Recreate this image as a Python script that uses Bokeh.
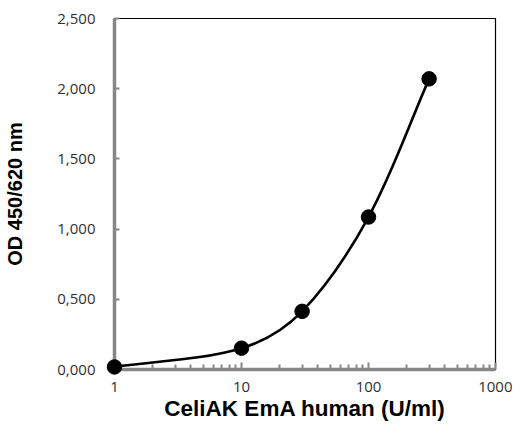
import numpy as np
from bokeh.plotting import figure
from bokeh.models import FixedTicker, Range1d
from bokeh.embed import file_html
from bokeh.resources import INLINE

conc = [1, 10, 30, 100, 300]
od = [0.018, 0.152, 0.414, 1.086, 2.070]
y_ticks = [0, 0.5, 1.0, 1.5, 2.0, 2.5]
y_labels = ["0,000", "0,500", "1,000", "1,500", "2,000", "2,500"]
x_ticks = [1, 10, 100, 1000]
x_labels = ["1", "10", "100", "1000"]

GRAY = "#878787"
TICK_TXT = "#303030"
W, H = 512, 426
BL, BR, BT, BB = 114, 17, 18, 57

p = figure(width=W, height=H, x_axis_type="log", output_backend="svg",
           toolbar_location=None, x_range=Range1d(1, 1000), y_range=Range1d(0, 2.5),
           min_border_left=BL, min_border_right=BR, min_border_top=BT, min_border_bottom=BB)
p.grid.visible = False
p.outline_line_color = "black"
p.outline_line_width = 1.2

# smooth curve through the points (tangent-based cubic Bezier, in screen-proportional space)
fw, fh = W - BL - BR, H - BT - BB
sx = fw / 3.0   # px per decade
sy = fh / 2.5   # px per unit
P = np.column_stack([np.log10(np.array(conc, float)) * sx, np.array(od, float) * sy])
n = len(P)
T = []
for i in range(n):
    a = P[max(i - 1, 0)]
    b = P[min(i + 1, n - 1)]
    d = b - a
    T.append(d / np.linalg.norm(d))
x0, y0, x1, y1, cx0, cy0, cx1, cy1 = [], [], [], [], [], [], [], []
for i in range(n - 1):
    L = np.linalg.norm(P[i + 1] - P[i]) / 3.0
    c0 = P[i] + T[i] * L
    c1 = P[i + 1] - T[i + 1] * L
    x0.append(10 ** (P[i][0] / sx)); y0.append(P[i][1] / sy)
    x1.append(10 ** (P[i + 1][0] / sx)); y1.append(P[i + 1][1] / sy)
    cx0.append(10 ** (c0[0] / sx)); cy0.append(c0[1] / sy)
    cx1.append(10 ** (c1[0] / sx)); cy1.append(c1[1] / sy)
p.bezier(x0=x0, y0=y0, x1=x1, y1=y1, cx0=cx0, cy0=cy0, cx1=cx1, cy1=cy1,
         line_color="black", line_width=2.6, level="overlay")
p.scatter(conc, od, size=14.5, color="black", level="overlay")

xa = p.xaxis[0]
xa.ticker = FixedTicker(ticks=x_ticks, minor_ticks=[k * d for d in [1, 10, 100] for k in range(2, 10)])
xa.major_label_overrides = {t: l for t, l in zip(x_ticks, x_labels)}
xa.axis_line_color = GRAY
xa.axis_line_width = 3.5
xa.major_tick_line_color = GRAY
xa.minor_tick_line_color = GRAY
xa.major_tick_line_width = 2
xa.minor_tick_line_width = 2
xa.major_tick_in = 7
xa.major_tick_out = 0
xa.minor_tick_in = 5
xa.minor_tick_out = 0
xa.major_label_text_font = "Open Sans"
xa.major_label_text_font_size = "15px"
xa.major_label_text_color = TICK_TXT
xa.major_label_standoff = 12
xa.axis_label = "CeliAK EmA human (U/ml)"
xa.axis_label_text_font = "Liberation Sans"
xa.axis_label_text_font_style = "bold"
xa.axis_label_text_font_size = "22.5px"
xa.axis_label_text_color = "black"
xa.axis_label_standoff = 1

ya = p.yaxis[0]
ya.ticker = FixedTicker(ticks=y_ticks, minor_ticks=[])
ya.major_label_overrides = {t: l for t, l in zip(y_ticks, y_labels)}
ya.axis_line_color = GRAY
ya.axis_line_width = 3.5
ya.major_tick_line_color = GRAY
ya.major_tick_line_width = 2
ya.major_tick_in = 5
ya.major_tick_out = 0
ya.major_label_text_font = "Open Sans"
ya.major_label_text_font_size = "15px"
ya.major_label_text_color = TICK_TXT
ya.major_label_standoff = 19
ya.axis_label = "OD 450/620 nm"
ya.axis_label_text_font = "Liberation Sans"
ya.axis_label_text_font_style = "bold"
ya.axis_label_text_font_size = "20px"
ya.axis_label_text_color = "black"
ya.axis_label_standoff = 28

open("out.html", "w").write(file_html(p, INLINE))
